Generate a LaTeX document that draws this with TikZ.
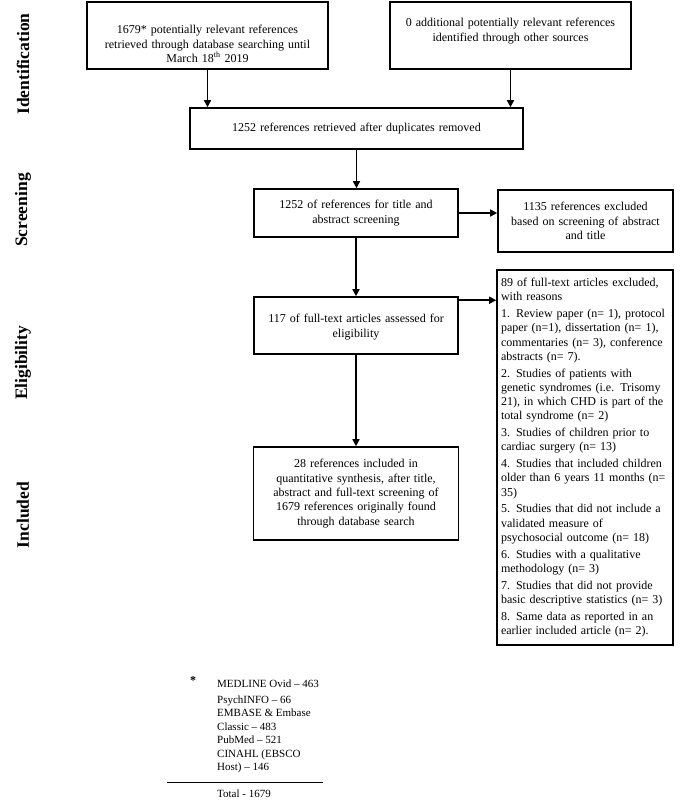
\documentclass[tikz,border=0pt]{standalone}
\usepackage{fontspec}
\setmainfont{Liberation Serif}
\usetikzlibrary{arrows.meta,positioning,calc}
\newcommand{\boxfs}{\fontsize{12}{14.3}\selectfont}
\newcommand{\notefs}{\fontsize{11}{13.5}\selectfont}
\newcommand{\stagefs}{\fontsize{17.5}{20}\selectfont\bfseries}

\begin{document}
\begin{tikzpicture}[x=1pt,y=1pt,
	box/.style={draw,line width=1.6pt,font=\boxfs,align=center,inner xsep=4pt,inner ysep=3pt},
	stage/.style={rotate=90,font=\stagefs,inner sep=0pt},
	>={Triangle[length=7pt,width=7pt]},
	arr/.style={->,line width=1.5pt}]
		\useasboundingbox (0,0) rectangle (685,-801);
		% stage labels on the left
		\node[stage] (idlbl) at (23,-64) {Identification};
		\node[stage] (scrlbl) at (23,-210) {Screening};
		\node[stage] (elglbl) at (23,-363) {Eligibility};
		\node[stage] (inclbl) at (23,-515) {Included};
		% identification
		\node[box,text width=233pt,minimum height=67pt,text depth=12pt] (dbrefs) at (207.5,-35.5) {1679* potentially relevant references\\retrieved through database searching until\\March 18\textsuperscript{th} 2019};
		\node[box,text width=233pt,minimum height=67pt,text depth=26pt] (otherrefs) at (510.5,-35.5) {0 additional potentially relevant references\\identified through other sources};
		\node[box,text width=325pt,minimum height=41pt] (nodup) at (356.5,-128.5) {1252 references retrieved after duplicates removed};
		% screening
		\node[box,text width=196pt,minimum height=48pt] (screen) at (356,-213) {1252 of references for title and\\abstract screening};
		\node[box,text width=167pt,minimum height=62pt] (screxcl) at (585.5,-221) {1135 references excluded\\based on screening of abstract\\and title};
		% eligibility
		\node[box,text width=196pt,minimum height=57pt,text depth=14pt] (elig) at (356,-325.5) {117 of full-text articles assessed for\\eligibility};
		\node[box,align=left,text width=168pt,minimum height=375pt] (fullexcl) at (585,-457.5) {89 of full-text articles excluded,\\with reasons\\[2.4pt]
			1. Review paper (n= 1), protocol\\paper (n=1), dissertation (n= 1),\\commentaries (n= 3), conference\\abstracts (n= 7).\\[2.4pt]
			2. Studies of patients with\\genetic syndromes (i.e. Trisomy\\21), in which CHD is part of the\\total syndrome (n= 2)\\[2.4pt]
			3. Studies of children prior to\\cardiac surgery (n= 13)\\[2.4pt]
			4. Studies that included children\\older than 6 years 11 months (n=\\35)\\[2.4pt]
			5. Studies that did not include a\\validated measure of\\psychosocial outcome (n= 18)\\[2.4pt]
			6. Studies with a qualitative\\methodology (n= 3)\\[2.4pt]
			7. Studies that did not provide\\basic descriptive statistics (n= 3)\\[2.4pt]
			8. Same data as reported in an\\earlier included article (n= 2).};
		% included
		\node[box,text width=197pt,minimum height=93pt] (incl) at (356,-493.5) {28 references included in\\quantitative synthesis, after title,\\abstract and full-text screening of\\1679 references originally found\\through database search};
		% connectors
		\draw[arr] (dbrefs.south) -- (dbrefs.south |- nodup.north);
		\draw[arr] (otherrefs.south) -- (otherrefs.south |- nodup.north);
		\draw[arr] (nodup.south) -- (nodup.south |- screen.north);
		\draw[arr] (screen.east) -- (screen.east -| screxcl.west);
		\draw[arr] (screen.south) -- (elig.north);
		\coordinate (eligout) at ($(elig.north east)+(0,-4)$);
		\draw[arr] (eligout) -- (eligout -| fullexcl.west);
		\draw[arr] (elig.south) -- (incl.north);
		% database footnote
		\node[font=\fontsize{12}{12}\selectfont\bfseries,inner sep=0pt] (star) at (193,-681) {*};
		\node[font=\notefs,align=left,anchor=north west,inner sep=0pt] (dblist) at (217,-679.5) {MEDLINE Ovid -- 463\\[2.5pt]PsychINFO -- 66\\EMBASE \& Embase\\Classic -- 483\\PubMed -- 521\\CINAHL (EBSCO\\Host) -- 146};
		\coordinate (ruleL) at (167,-782);
		\coordinate (ruleR) at (323,-782);
		\draw[line width=0.8pt] (ruleL) -- (ruleR);
		\node[font=\notefs,anchor=base west,inner sep=0pt] (total) at (217,-797.5) {Total - 1679};
		\end{tikzpicture}
\end{document}
